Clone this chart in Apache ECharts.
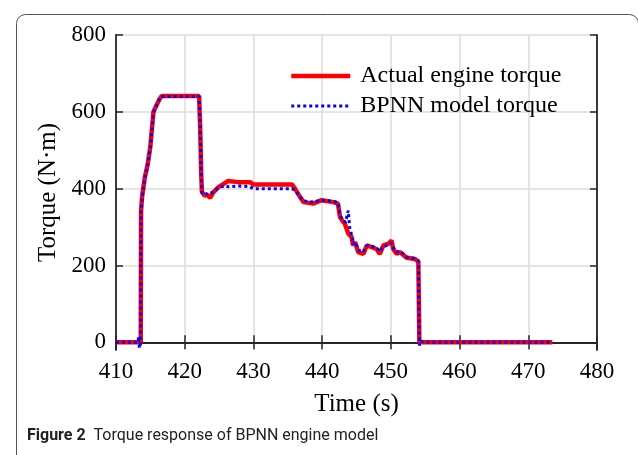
<!DOCTYPE html>
<html>
<head>
<meta charset="utf-8">
<script src="https://cdn.jsdelivr.net/npm/echarts@6/dist/echarts.min.js"></script>
<style>html,body{margin:0;padding:0;background:#fff;}#c{width:638px;height:455px;}</style>
</head>
<body>
<div id="c"></div>
<script>
const xTicks = [410, 420, 430, 440, 450, 460, 470, 480];
const yTicks = [0, 200, 400, 600, 800];
const seriesNames = ['Actual engine torque', 'BPNN model torque'];

const actualTorque = [
  [410,0],[413.6,0],[413.65,343],[413.8,380],[414.2,430],[414.6,462],[415.0,510],[415.45,600],[415.9,617],[416.3,632],[416.65,641],
  [422.1,641],[422.25,560],[422.4,440],[422.5,392],[422.9,382],[423.3,384],[423.7,376],[424.15,390],[424.9,404],[425.9,415],[426.3,420],
  [427.8,417],[429.5,417],[430.0,411],[435.6,411],[436.05,400],[436.8,378],[437.3,365],[438.7,361],[439.9,370],[441.6,365],[442.3,361],
  [442.6,326],[443.0,315],[443.3,309],[443.8,283],[444.3,274],[444.5,252],[444.8,261],[445.25,235],[446.0,230],[446.5,252],[447.2,248],
  [447.9,243],[448.4,230],[448.9,252],[449.6,256],[450.1,265],[450.35,243],[450.85,230],[451.3,235],[452.3,220],[453.5,217],[454.0,210],
  [454.15,0],[473.5,0]
];
const modelTorque = [
  [410,0],[413.2,0],[413.3,15],[413.4,-15],[413.55,-5],[413.65,340],[413.8,375],[414.2,428],[414.6,460],[415.0,508],[415.45,598],[415.9,616],
  [416.3,632],[416.65,640],[422.1,640],[422.25,560],[422.4,440],[422.5,388],[422.9,390],[423.3,385],[423.7,388],[424.2,392],[424.9,402],
  [425.9,408],[426.3,405],[427.8,407],[429.5,405],[430.0,400],[435.6,400],[436.05,396],[436.8,378],[437.3,368],[438.7,365],[439.9,370],
  [441.6,367],[442.3,364],[442.6,330],[443.0,320],[443.4,312],[443.8,343],[444.0,300],[444.3,278],[444.5,256],[444.8,262],[445.25,240],
  [446.0,235],[446.5,252],[447.2,250],[447.9,247],[448.4,236],[448.9,250],[449.6,252],[450.1,258],[450.35,246],[450.85,235],[451.3,238],
  [452.3,222],[453.5,218],[454.0,212],[454.15,-8],[454.4,3],[454.8,0],[473.5,0]
];

const axisColor = '#262626';
const serif = '"Liberation Serif", "Times New Roman", serif';
const chart = echarts.init(document.getElementById('c'), null, {renderer: 'canvas'});

const tickCommon = {show: true, inside: true, length: 7, lineStyle: {color: axisColor, width: 1.5}};
chart.setOption({
  animation: false,
  backgroundColor: '#fff',
  grid: {left: 116, right: 41, top: 35, bottom: 105, containLabel: false},
  legend: {
    orient: 'vertical', left: 284, top: 59, itemWidth: 59, itemHeight: 14, itemGap: 6,
    itemStyle: {opacity: 0},
    lineStyle: {width: 'inherit', type: 'inherit'},
    textStyle: {fontFamily: serif, fontSize: 24, color: '#000', padding: [0, 0, 0, 5]},
    data: seriesNames
  },
  xAxis: [
    {type: 'value', min: 410, max: 480, interval: 10, position: 'bottom',
     name: 'Time (s)', nameLocation: 'middle', nameGap: 42,
     nameTextStyle: {fontFamily: serif, fontSize: 25, color: '#000'},
     axisLine: {show: true, lineStyle: {color: axisColor, width: 1.8}},
     axisTick: tickCommon,
     axisLabel: {fontFamily: serif, fontSize: 23, color: '#000', margin: 10, customValues: xTicks},
     splitLine: {show: true, lineStyle: {color: '#dcdcdc', width: 1.5}}},
    {type: 'value', min: 410, max: 480, interval: 10, position: 'top',
     axisLine: {show: true, lineStyle: {color: axisColor, width: 1.8}},
     axisTick: tickCommon, axisLabel: {show: false}, splitLine: {show: false}}
  ],
  yAxis: [
    {type: 'value', min: -20, max: 800, position: 'left',
     name: 'Torque (N\u00B7m)', nameLocation: 'middle', nameGap: 51, nameRotate: 90,
     nameTextStyle: {fontFamily: serif, fontSize: 25, color: '#000'},
     axisLine: {show: true, lineStyle: {color: axisColor, width: 1.8}},
     axisTick: Object.assign({}, tickCommon, {customValues: yTicks}),
     axisLabel: {fontFamily: serif, fontSize: 23, color: '#000', margin: 10, customValues: yTicks},
     splitLine: {show: true, lineStyle: {color: '#dcdcdc', width: 1.5}}},
    {type: 'value', min: -20, max: 800, position: 'right',
     axisLine: {show: true, lineStyle: {color: axisColor, width: 1.8}},
     axisTick: Object.assign({}, tickCommon, {customValues: yTicks}),
     axisLabel: {show: false}, splitLine: {show: false}}
  ],
  series: [
    {name: seriesNames[0], type: 'line', data: actualTorque, showSymbol: false, symbol: 'none',
     lineStyle: {color: '#ff0000', width: 4.5}, itemStyle: {color: '#ff0000'}, z: 3},
    {name: seriesNames[1], type: 'line', data: modelTorque, showSymbol: false, symbol: 'none',
     lineStyle: {color: '#0000ff', width: 3, type: [3, 3]}, itemStyle: {color: '#0000ff'}, z: 4}
  ],
  graphic: [
    {type: 'rect', left: 14, top: 12, shape: {width: 622, height: 480, r: 9}, silent: true,
     style: {fill: 'none', stroke: '#555', lineWidth: 1}},
    {type: 'text', left: 27, top: 428, silent: true,
     style: {rich: {b: {fontFamily: 'Roboto, sans-serif', fontWeight: 'bold', fontSize: 16, fill: '#222'},
                    n: {fontFamily: 'Roboto, sans-serif', fontSize: 16, fill: '#222'}},
             text: '{b|Figure 2}{n|  Torque response of BPNN engine model}'}}
  ]
});
</script>
</body>
</html>
